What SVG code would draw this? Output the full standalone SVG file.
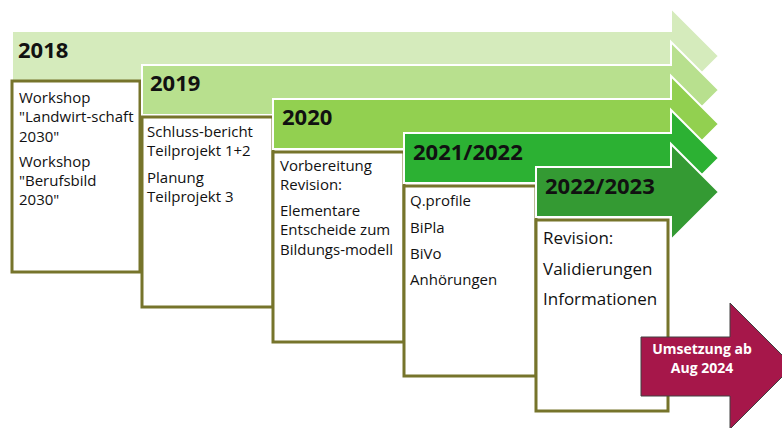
<svg xmlns="http://www.w3.org/2000/svg" width="782" height="428" viewBox="0 0 782 428">
<style>
.arr{stroke:#ffffff;stroke-width:2;stroke-linejoin:miter}
.box{fill:#ffffff;stroke:#76742b;stroke-width:3}
.yr{font-family:"Open Sans","Liberation Sans",sans-serif;font-weight:bold;font-size:22px;fill:#111111}
.t{font-family:"Open Sans","Liberation Sans",sans-serif;font-size:15px;fill:#111111}
.t5{font-family:"Open Sans","Liberation Sans",sans-serif;font-size:17px;fill:#111111}
.mt{font-family:"Open Sans","Liberation Sans",sans-serif;font-weight:bold;font-size:14px;fill:#ffffff;text-anchor:middle}
</style>
<rect width="782" height="428" fill="#ffffff"/>
<g id="y2018">
<polygon class="arr" fill="#d5ebbc" points="12,31 671,31 671,8 719,56 671,104 671,81 12,81"/>
<rect class="box" x="12" y="81" width="128" height="191"/>
<text class="yr" x="18" y="58">2018</text>
<text class="t" x="19" y="103">Workshop</text>
<text class="t" x="19" y="122">"Landwirt-schaft</text>
<text class="t" x="19" y="142">2030"</text>
<text class="t" x="19" y="167">Workshop</text>
<text class="t" x="19" y="186">"Berufsbild</text>
<text class="t" x="19" y="205">2030"</text>
</g>
<g id="y2019">
<polygon class="arr" fill="#b8e08e" points="142,65 671,65 671,42 719,90 671,138 671,115 142,115"/>
<rect class="box" x="142" y="117" width="131" height="190"/>
<text class="yr" x="150" y="91">2019</text>
<text class="t" x="147" y="137">Schluss-bericht</text>
<text class="t" x="147" y="156">Teilprojekt 1+2</text>
<text class="t" x="147" y="183">Planung</text>
<text class="t" x="147" y="202">Teilprojekt 3</text>
</g>
<g id="y2020">
<polygon class="arr" fill="#92d050" points="273,99 671,99 671,76 719,124 671,172 671,149 273,149"/>
<rect class="box" x="273" y="152" width="131" height="190"/>
<text class="yr" x="282" y="125">2020</text>
<text class="t" x="280" y="171">Vorbereitung</text>
<text class="t" x="280" y="190">Revision:</text>
<text class="t" x="280" y="216">Elementare</text>
<text class="t" x="280" y="235">Entscheide zum</text>
<text class="t" x="280" y="255">Bildungs-modell</text>
</g>
<g id="y2021">
<polygon class="arr" fill="#2cb133" points="404,133 671,133 671,110 719,158 671,206 671,183 404,183"/>
<rect class="box" x="404" y="186" width="132" height="190"/>
<text class="yr" x="413" y="160">2021/2022</text>
<text class="t" x="410" y="206">Q.profile</text>
<text class="t" x="410" y="233">BiPla</text>
<text class="t" x="410" y="259">BiVo</text>
<text class="t" x="410" y="285">Anhörungen</text>
</g>
<g id="y2022">
<polygon class="arr" fill="#349a33" points="536,167 671,167 671,144 719,192 671,240 671,217 536,217"/>
<rect class="box" x="536" y="220" width="132" height="191"/>
<text class="yr" x="545" y="194">2022/2023</text>
<text class="t5" x="543" y="244">Revision:</text>
<text class="t5" x="543" y="275">Validierungen</text>
<text class="t5" x="543" y="305">Informationen</text>
</g>
<g id="umsetzung">
<polygon points="641,337 730,337 730,303 793,366 730,429 730,396 641,396" fill="#a6174a" stroke="#404040" stroke-width="1"/>
<text class="mt" x="702" y="354">Umsetzung ab</text>
<text class="mt" x="702" y="373">Aug 2024</text>
</g>
<g id="connectors"/>
</svg>
